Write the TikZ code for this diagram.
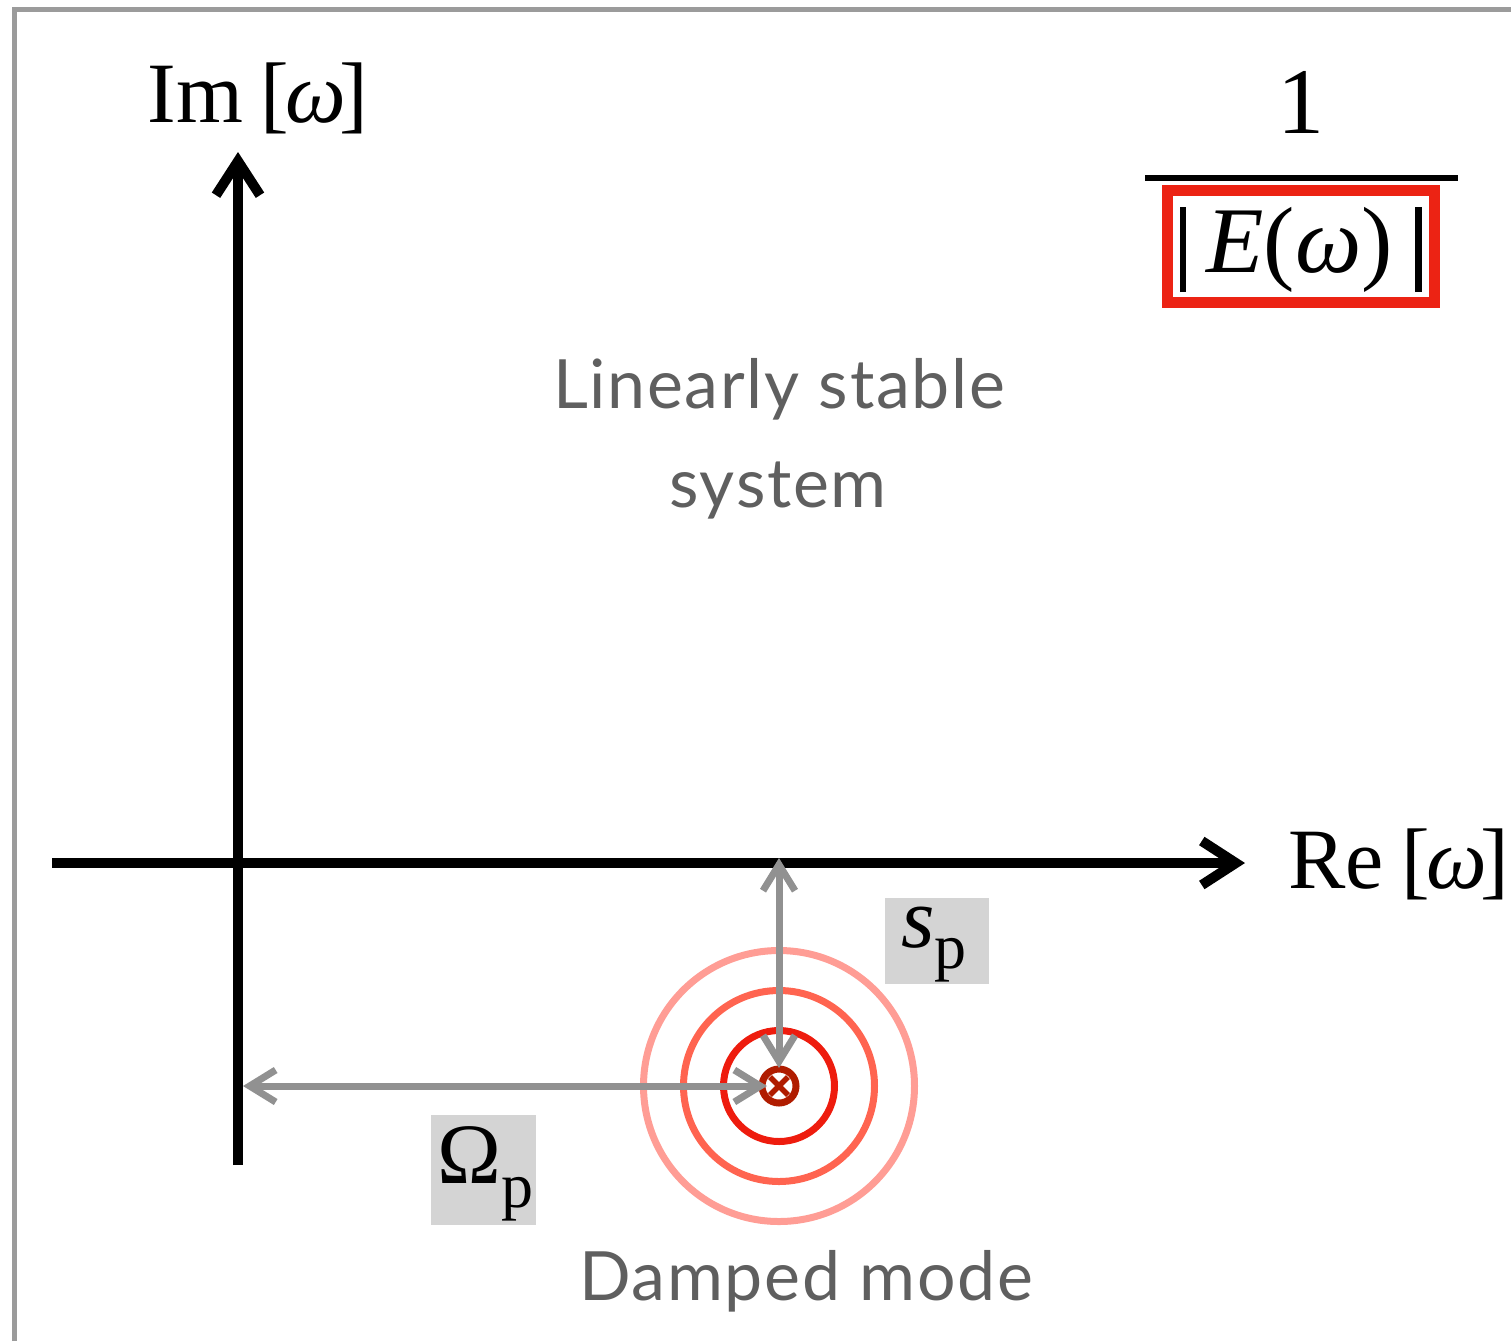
\documentclass[tikz,border=0pt]{standalone}
\usepackage{fontspec}
\setmainfont{Liberation Serif}
\newfontfamily\latofont[LetterSpace=2.5]{Lato}
\usetikzlibrary{arrows.meta}
\definecolor{framegray}{HTML}{9B9B9B}
\definecolor{arrgray}{HTML}{919191}
\definecolor{boxgray}{HTML}{D4D4D4}
\definecolor{txtgray}{HTML}{5F5F5F}
\definecolor{ringA}{HTML}{EE1C0E}
\definecolor{ringB}{HTML}{FF6450}
\definecolor{ringC}{HTML}{FF9D95}
\definecolor{poleRed}{HTML}{B01C00}
\definecolor{boxRed}{HTML}{EC2314}
\tikzset{
  axisline/.style={line width=5pt, -{Straight Barb[length=17pt,width=22pt]}},
  grayarrow/.style={arrgray, line width=3.5pt, {Straight Barb[length=13pt,width=16pt]}-{Straight Barb[length=13pt,width=16pt]}},
  ring/.style={line width=3.5pt},
  mathlbl/.style={inner sep=0pt, font=\fontsize{43pt}{43pt}\selectfont},
  fraclbl/.style={inner sep=0pt, font=\fontsize{47pt}{47pt}\selectfont},
  graytxt/.style={inner sep=0pt, text=txtgray, font=\latofont\fontsize{34pt}{34pt}\selectfont},
  labelbox/.style={fill=boxgray, inner sep=0pt},
}
\newcommand{\subp}[1]{\raisebox{#1}{\fontsize{32pt}{32pt}\selectfont p}}
\newcommand{\omg}{[\kern-1.5pt\textit{ω}\kern-3.5pt]}
\newcommand{\absbar}{\rule[-10pt]{3.4pt}{42.5pt}}
\begin{document}
\begin{tikzpicture}[x=0.5pt,y=-0.5pt]
\useasboundingbox (0,0) rectangle (1511,1341);
% frame
\draw[framegray, line width=2.5pt] (14,1341) -- (14,9) -- (1511,9);
% axes
\coordinate (Ybot) at (238,1165);
\coordinate (Ytop) at (238,152);
\coordinate (Xleft) at (52,863);
\coordinate (Xright) at (1245,863);
\draw[axisline] (Ybot) -- (Ytop);
\draw[axisline] (Xleft) -- (Xright);
\node[mathlbl, anchor=base west] (imlbl) at (147,122) {Im\hspace{0.2em}\omg};
\node[mathlbl, anchor=base west] (relbl) at (1288,888) {Re\hspace{0.2em}\omg};
% rings
\coordinate (P) at (779,1086);
\draw[ring, ringC] (P) circle[radius=135.5];
\draw[ring, ringB] (P) circle[radius=95.5];
\draw[ring, ringA] (P) circle[radius=55.5];
% pole marker
\node[circle, draw=poleRed, line width=3.5pt, minimum size=17pt, inner sep=0pt, outer sep=0pt] (pole) at (P) {};
\draw[poleRed, line width=2.8pt] (pole.center) ++(-9,-9) -- ++(18,18);
\draw[poleRed, line width=2.8pt] (pole.center) ++(-9,9) -- ++(18,-18);
% gray distance arrows
\coordinate (Sp) at (779,858);
\coordinate (Op) at (243,1086);
\draw[grayarrow] (Sp) -- (779,1068);
\draw[grayarrow] (Op) -- (767,1086);
% label boxes
\node[labelbox, minimum width=52pt, minimum height=43pt] (spbox) at (937,941) {};
\node[mathlbl, anchor=base west] (splbl) at (901,947) {\textit{s}\subp{-10.5pt}};
\node[labelbox, minimum width=52.5pt, minimum height=55pt] (opbox) at (483.5,1170) {};
\node[mathlbl, anchor=base west] (oplbl) at (437,1183) {Ω\subp{-12pt}};
% texts
\node[graytxt, anchor=base] (lin) at (779,408) {Linearly stable};
\node[graytxt, anchor=base] (sys) at (778,507) {system};
\node[graytxt, anchor=base] (damp) at (806,1300) {Damped mode};
% fraction
\node[fraclbl, anchor=base] (one) at (1301,133) {1};
\coordinate (FL) at (1145,178);
\coordinate (FR) at (1458,178);
\draw[line width=3pt] (FL) -- (FR);
\node[draw=boxRed, line width=5.5pt, minimum width=133.5pt, minimum height=56pt, inner sep=0pt] (redbox) at (1301,246.5) {};
\node[fraclbl, anchor=base] (den) at (1300.5,272) {\absbar\hspace{10pt}\textit{E}(\textit{ω})\hspace{11pt}\absbar};
\end{tikzpicture}
\end{document}
